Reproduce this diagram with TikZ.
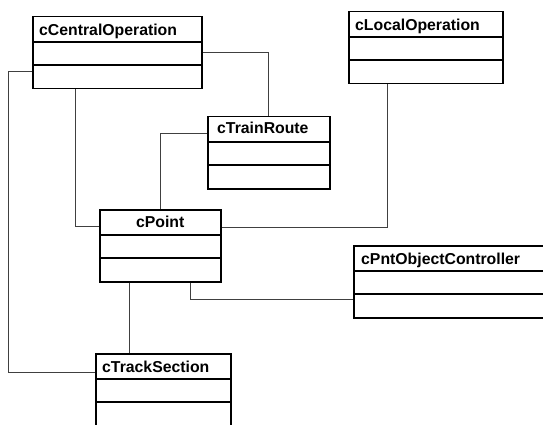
\documentclass[tikz,border=0pt]{standalone}
\usepackage{fontspec}
\setmainfont{Liberation Sans}
\usepackage{tikz}

\begin{document}
\begin{tikzpicture}[x=1pt, y=-1pt,
    classbox/.style={draw, line width=1.5pt, anchor=north west, inner sep=0pt,
      minimum height=72pt},
    classname/.style={font=\fontsize{15.8}{18}\selectfont\bfseries, inner sep=0pt},
    assoc/.style={draw=black!75, line width=1pt}]
  \useasboundingbox (0,0) rectangle (543,425);
  \clip (0,0) rectangle (543,425);
  % classes
  \node[classbox, minimum width=169pt] (central) at (32,16) {};
  \node[classbox, minimum width=154pt] (local) at (348,11) {};
  \node[classbox, minimum width=122pt] (route) at (207,116) {};
  \node[classbox, minimum width=121pt] (point) at (99,209) {};
  \node[classbox, minimum width=210pt] (ctrl) at (353,245) {};
  \node[classbox, minimum width=135pt, minimum height=80pt] (track) at (95,353) {};
  \foreach \c in {central,local,route,point,ctrl,track}
    \foreach \d in {26pt,49pt}
      \draw[line width=1.5pt] ([yshift=-\d]\c.north west) -- ([yshift=-\d]\c.north east);
  % class names
  \node[classname, anchor=base west] (central-t) at ([xshift=7pt,yshift=-20pt]central.north west) {cCentralOperation};
  \node[classname, anchor=base west] (local-t) at ([xshift=7pt,yshift=-20pt]local.north west) {cLocalOperation};
  \node[classname, anchor=base west] (route-t) at ([xshift=10pt,yshift=-18pt]route.north west) {cTrainRoute};
  \node[classname, anchor=base] (point-t) at ([yshift=-18pt]point.north) {cPoint};
  \node[classname, anchor=base west] (ctrl-t) at ([xshift=8pt,yshift=-19pt]ctrl.north west) {cPntObjectController};
  \node[classname, anchor=base west] (track-t) at ([xshift=7pt,yshift=-19pt]track.north west) {cTrackSection};
  % associations
  \draw[assoc] ([yshift=-19pt]central.west) -- ++(-24,0) |- ([yshift=21pt]track.west);
  \draw[assoc] ([xshift=-42pt]central.south) |- ([yshift=19pt]point.west);
  \draw[assoc] (central.east) -| (route.north);
  \draw[assoc] ([yshift=19pt]route.west) -| (point.north);
  \draw[assoc] ([yshift=18pt]point.east) -| ([xshift=-38pt]local.south);
  \draw[assoc] ([xshift=-31pt]point.south) -- ([xshift=-34pt]track.north);
  \draw[assoc] ([xshift=30pt]point.south) |- ([yshift=-18pt]ctrl.west);
\end{tikzpicture}
\end{document}
